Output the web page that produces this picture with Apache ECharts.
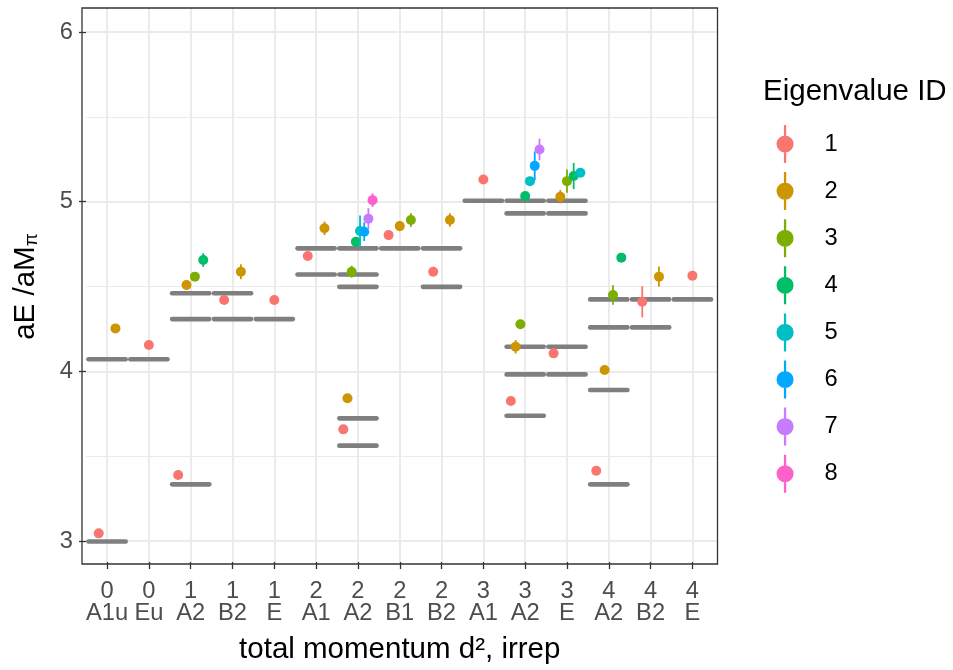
<!DOCTYPE html>
<html>
<head>
<meta charset="utf-8">
<script src="https://cdn.jsdelivr.net/npm/echarts@6/dist/echarts.min.js"></script>
<style>
html,body{margin:0;padding:0;background:#fff;}
#chart{width:953px;height:670px;}
</style>
</head>
<body>
<div id="chart"></div>
<script>
// x categories (total momentum d², irrep)
const categories = ["0\nA1u","0\nEu","1\nA2","1\nB2","1\nE","2\nA1","2\nA2","2\nB1","2\nB2","3\nA1","3\nA2","3\nE","4\nA2","4\nB2","4\nE"];
// non-interacting levels per category
const freeLevels = [
  [2.997, 4.071],
  [4.071],
  [3.334, 4.308, 4.46],
  [4.308, 4.46],
  [4.308],
  [4.571, 4.725],
  [3.562, 3.723, 4.498, 4.571, 4.725],
  [4.725],
  [4.498, 4.725],
  [5.005],
  [3.738, 3.982, 4.145, 4.931, 5.005],
  [3.982, 4.145, 4.931, 5.005],
  [3.334, 3.89, 4.259, 4.424],
  [4.259, 4.424],
  [4.424]
];
// eigenvalue IDs
const eigenIds = ["1","2","3","4","5","6","7","8"];
// energies per eigenvalue ID (one entry per category, null = absent)
const E1 = [3.045, 4.155, 3.389, 4.42, 4.42, 4.68, 3.658, 4.803, 4.587, 5.131, 3.825, 4.106, 3.414, 4.41, 4.564];
const E2 = [4.253, null, 4.509, 4.587, null, 4.843, 3.841, 4.856, 4.892, null, 4.145, 5.029, 4.008, 4.558, null];
const E3 = [null, null, 4.558, null, null, null, 4.587, 4.892, null, null, 4.277, 5.121, 4.45, null, null];
const E4 = [null, null, 4.656, null, null, null, 4.764, null, null, null, 5.033, 5.151, 4.67, null, null];
const E5 = [null, null, null, null, null, null, 4.827, null, null, null, 5.121, 5.17, null, null, null];
const E6 = [null, null, null, null, null, null, 4.823, null, null, null, 5.211, null, null, null, null];
const E7 = [null, null, null, null, null, null, 4.90, null, null, null, 5.308, null, null, null, null];
const E8 = [null, null, null, null, null, null, 5.009, null, null, null, null, null, null, null, null];
// errors
const D1 = [0.01, 0.01, 0.01, 0.01, 0.01, 0.01, 0.01, 0.01, 0.01, 0.01, 0.01, 0.025, 0.025, 0.092, 0.01];
const D2 = [0.01, null, 0.03, 0.044, null, 0.04, 0.01, 0.03, 0.04, null, 0.04, 0.04, 0.01, 0.06, null];
const D3 = [null, null, 0.015, null, null, null, 0.035, 0.04, null, null, 0.02, 0.069, 0.057, null, null];
const D4 = [null, null, 0.04, null, null, null, 0.015, null, null, null, 0.015, 0.077, 0.01, null, null];
const D5 = [null, null, null, null, null, null, 0.092, null, null, null, 0.02, 0.02, null, null, null];
const D6 = [null, null, null, null, null, null, 0.055, null, null, null, 0.085, null, null, null, null];
const D7 = [null, null, null, null, null, null, 0.062, null, null, null, 0.064, null, null, null, null];
const D8 = [null, null, null, null, null, null, 0.04, null, null, null, null, null, null, null, null];

const energies = [E1, E2, E3, E4, E5, E6, E7, E8];
const errors = [D1, D2, D3, D4, D5, D6, D7, D8];
const colors = ["#F8766D","#CD9600","#7CAE00","#00BE67","#00BFC4","#00A9FF","#C77CFF","#FF61CC"];
const FONT = "'Liberation Sans', Arial, Helvetica, sans-serif";

function dodgeX(i, k) {
  const present = [];
  energies.forEach((arr, j) => { if (arr[i] != null) present.push(j); });
  const n = present.length, r = present.indexOf(k);
  return i - 0.4 + 0.8 * (r + 0.5) / n;
}

const levelData = [];
freeLevels.forEach((lv, i) => lv.forEach(v => levelData.push([i, v])));

const levelSeries = {
  type: 'custom', xAxisIndex: 0, yAxisIndex: 0, z: 2, silent: true,
  data: levelData,
  renderItem: function (params, api) {
    const x = api.value(0), y = api.value(1);
    const a = api.coord([x - 0.445, y]), b = api.coord([x + 0.445, y]);
    const a2 = api.coord([x - 0.475, y]), b2 = api.coord([x + 0.475, y]);
    return { type: 'group', children: [
      { type: 'line', shape: { x1: a2[0], y1: a2[1], x2: b2[0], y2: b2[1] }, style: { stroke: '#7F7F7F', lineWidth: 1.6 } },
      { type: 'line', shape: { x1: a[0], y1: a[1], x2: b[0], y2: b[1] }, style: { stroke: '#7F7F7F', lineWidth: 4.6, lineCap: 'round' } }
    ]};
  }
};

const pointSeries = eigenIds.map((name, k) => {
  const data = [];
  categories.forEach((c, i) => {
    if (energies[k][i] != null) data.push([dodgeX(i, k), energies[k][i], errors[k][i]]);
  });
  return {
    name: name, type: 'custom', xAxisIndex: 0, yAxisIndex: 0, z: 3,
    itemStyle: { color: colors[k] },
    data: data,
    renderItem: function (params, api) {
      const x = api.value(0), y = api.value(1), e = api.value(2);
      const p = api.coord([x, y]), t = api.coord([x, y + e]), b = api.coord([x, y - e]);
      const col = colors[k];
      return { type: 'group', children: [
        { type: 'line', shape: { x1: p[0], y1: t[1], x2: p[0], y2: b[1] }, style: { stroke: col, lineWidth: 1.8 } },
        { type: 'circle', shape: { cx: p[0], cy: p[1], r: 5 }, style: { fill: col } }
      ]};
    }
  };
});

const keyIcon = 'path://M8.8,0H11.2V40H8.8Z M1,20A9,9 0 1,1 19,20A9,9 0 1,1 1,20Z';

const option = {
  animation: false,
  backgroundColor: '#ffffff',
  textStyle: { fontFamily: FONT },
  title: {
    text: 'Eigenvalue ID', left: 763, top: 77, padding: 0,
    textStyle: { fontFamily: FONT, fontSize: 29.5, fontWeight: 'normal', color: '#000' }
  },
  legend: {
    orient: 'vertical', left: 776.5, top: 125, padding: 0,
    itemWidth: 19, itemHeight: 38, itemGap: 9.1,
    data: eigenIds.map(n => ({ name: n, icon: keyIcon })),
    formatter: n => '{t|' + n + '}',
    textStyle: { fontFamily: FONT, fontSize: 23.7, color: '#000',
      rich: { t: { fontFamily: FONT, fontSize: 23.7, color: '#000', padding: [0, 0, 0, 25] } } },
    selectedMode: false
  },
  grid: [
    { left: 82, top: 8, width: 635.5, height: 556, show: true, borderColor: '#333333', borderWidth: 1.3, backgroundColor: 'transparent', z: 5 },
    { left: 82, top: 32, width: 635.5, height: 509, show: false },
    { left: 82 + 0.6 * 635.5 / 15.2, top: 8, width: 14 * 635.5 / 15.2, height: 556, show: false }
  ],
  xAxis: [
    { gridIndex: 0, type: 'value', min: -0.6, max: 14.6, show: false },
    { gridIndex: 1, type: 'value', min: 0, max: 1, show: false },
    { gridIndex: 2, type: 'value', min: 0, max: 14, interval: 1, position: 'bottom',
      axisLine: { show: false },
      axisTick: { show: true, length: 7, lineStyle: { color: '#333333', width: 1.3 } },
      axisLabel: { formatter: v => categories[v], color: '#4D4D4D', fontSize: 23.7, fontFamily: FONT, lineHeight: 22, margin: 18 },
      splitLine: { show: true, lineStyle: { color: '#EBEBEB', width: 2 } },
      name: 'total momentum d², irrep', nameLocation: 'middle', nameGap: 73,
      nameTextStyle: { fontFamily: FONT, fontSize: 29.5, color: '#000' }
    }
  ],
  yAxis: [
    { gridIndex: 0, type: 'value', min: 2.8644, max: 6.1415, show: false },
    { gridIndex: 1, type: 'value', min: 3, max: 6, interval: 1,
      axisLine: { show: false },
      axisTick: { show: true, length: 7, lineStyle: { color: '#333333', width: 1.3 } },
      axisLabel: { color: '#4D4D4D', fontSize: 23.7, fontFamily: FONT, margin: 13 },
      splitLine: { show: true, lineStyle: { color: '#EBEBEB', width: 2 } },
      minorTick: { show: false, splitNumber: 2 },
      minorSplitLine: { show: true, lineStyle: { color: '#EBEBEB', width: 1 } },
      name: '{a|aE /aM}{s|π}', nameLocation: 'middle', nameGap: 45, nameRotate: 90,
      nameTextStyle: { fontFamily: FONT, fontSize: 29.5, color: '#000',
        rich: {
          a: { fontFamily: FONT, fontSize: 29.5, color: '#000', lineHeight: 30, verticalAlign: 'top' },
          s: { fontFamily: FONT, fontSize: 19, color: '#000', lineHeight: 18, padding: [14, 0, 0, 0], verticalAlign: 'bottom' }
        } }
    },
    { gridIndex: 2, type: 'value', min: 0, max: 1, show: false }
  ],
  series: [levelSeries].concat(pointSeries)
};

const chart = echarts.init(document.getElementById('chart'), null, { renderer: 'canvas' });
chart.setOption(option);
</script>
</body>
</html>
